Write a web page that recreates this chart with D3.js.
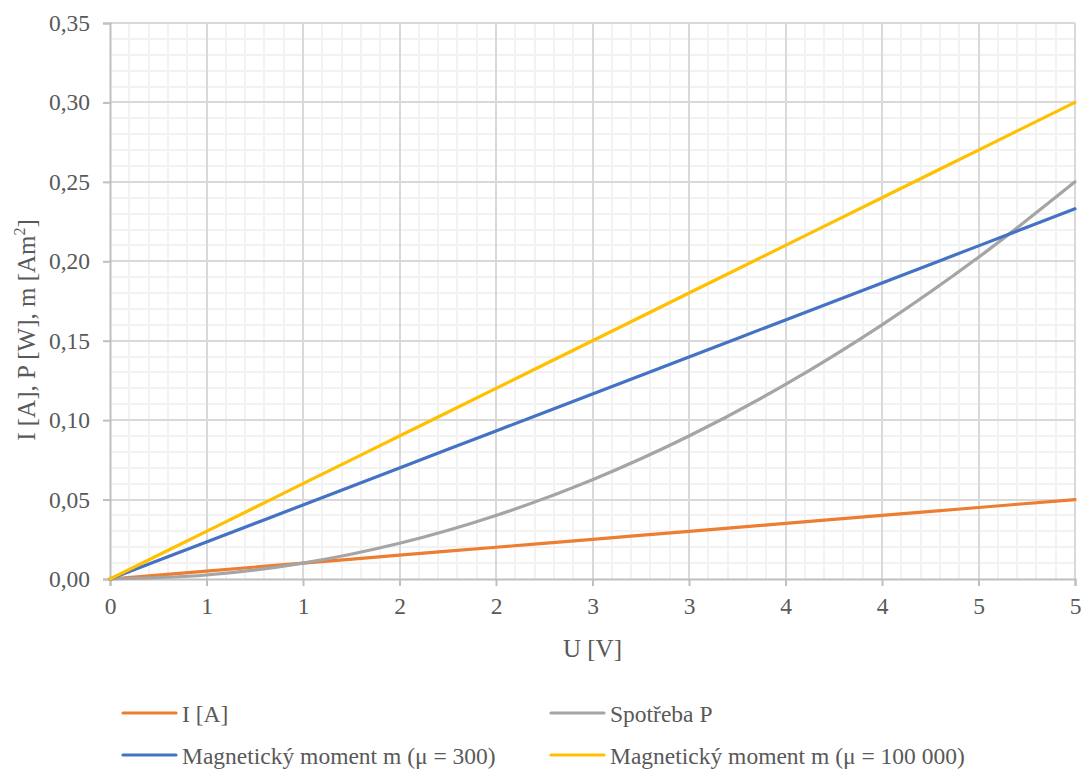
<!DOCTYPE html>
<html>
<head>
<meta charset="utf-8">
<script src="https://cdn.jsdelivr.net/npm/d3@7"></script>
<style>
  html, body { margin: 0; padding: 0; background: #ffffff; }
  svg { display: block; font-family: "Liberation Serif", "Times New Roman", serif; }
</style>
</head>
<body>
<svg id="chart" width="1091" height="769"></svg>
<script>
// Voltage samples U [V]
const voltage = [0, 0.5, 1, 1.5, 2, 2.5, 3, 3.5, 4, 4.5, 5];
// Current I [A]
const current = [0, 0.005, 0.01, 0.015, 0.02, 0.025, 0.03, 0.035, 0.04, 0.045, 0.05];
// Power consumption P [W]
const power = [0, 0.0025, 0.01, 0.0225, 0.04, 0.0625, 0.09, 0.1225, 0.16, 0.2025, 0.25];
// Magnetic moment, mu = 300
const moment300 = [0, 0.0233, 0.0466, 0.0699, 0.0932, 0.1165, 0.1398, 0.1631, 0.1864, 0.2097, 0.233];
// Magnetic moment, mu = 100 000
const moment100k = [0, 0.03, 0.06, 0.09, 0.12, 0.15, 0.18, 0.21, 0.24, 0.27, 0.30];

const xTicks = [0, 0.5, 1, 1.5, 2, 2.5, 3, 3.5, 4, 4.5, 5];
const yTicks = [0, 0.05, 0.10, 0.15, 0.20, 0.25, 0.30, 0.35];

const series = [
  { name: "I [A]", values: current, color: "#ED7D31" },
  { name: "Spotřeba P", values: power, color: "#A5A5A5" },
  { name: "Magnetický moment m (μ = 300)", values: moment300, color: "#4472C4" },
  { name: "Magnetický moment m (μ = 100 000)", values: moment100k, color: "#FFC000" }
];

const svg = d3.select("#chart");
const plotL = 110, plotR = 1075, plotT = 23, plotB = 579;

const x = d3.scaleLinear().domain([0, 5]).range([plotL, plotR]);
const y = d3.scaleLinear().domain([0, 0.35]).range([plotB, plotT]);

const textColor = "#595959";
const fontSize = 23.5;

// Minor gridlines
const minorX = d3.range(0, 51).map(i => i / 10).filter(v => Math.round(v * 10) % 5 !== 0);
const minorY = d3.range(0, 36).map(i => i / 100).filter(v => Math.round(v * 100) % 5 !== 0);
const grid = svg.append("g").attr("shape-rendering", "crispEdges");
grid.selectAll(".mx").data(minorX).join("line")
  .attr("x1", d => Math.round(x(d))).attr("x2", d => Math.round(x(d)))
  .attr("y1", plotT).attr("y2", plotB)
  .attr("stroke", "#f2f2f2").attr("stroke-width", 2);
grid.selectAll(".my").data(minorY).join("line")
  .attr("y1", d => Math.round(y(d))).attr("y2", d => Math.round(y(d)))
  .attr("x1", plotL).attr("x2", plotR)
  .attr("stroke", "#f2f2f2").attr("stroke-width", 2);

// Major gridlines
grid.selectAll(".Mx").data(xTicks.slice(1)).join("line")
  .attr("x1", d => Math.round(x(d))).attr("x2", d => Math.round(x(d)))
  .attr("y1", plotT).attr("y2", plotB)
  .attr("stroke", "#d9d9d9").attr("stroke-width", 2);
grid.selectAll(".My").data(yTicks.slice(1)).join("line")
  .attr("y1", d => Math.round(y(d))).attr("y2", d => Math.round(y(d)))
  .attr("x1", plotL).attr("x2", plotR)
  .attr("stroke", "#d9d9d9").attr("stroke-width", 2);

// Axes
const xAxis = d3.axisBottom(x).tickValues(xTicks).tickSize(7).tickPadding(11)
  .tickFormat(d => String(Math.round(d + 1e-9)));
const gx = svg.append("g").attr("transform", `translate(0,${plotB})`).call(xAxis);
gx.select(".domain").attr("stroke", "#bfbfbf").attr("stroke-width", 2);
gx.selectAll(".tick line").attr("stroke", "#bfbfbf").attr("stroke-width", 2);
gx.selectAll(".tick text").attr("fill", textColor).attr("font-size", fontSize)
  .attr("font-family", "Liberation Serif");

const yAxis = d3.axisLeft(y).tickValues(yTicks).tickSize(7).tickPadding(13)
  .tickFormat(d => d3.format(".2f")(d).replace(".", ","));
const gy = svg.append("g").attr("transform", `translate(${plotL},0)`).call(yAxis);
gy.select(".domain").attr("stroke", "#bfbfbf").attr("stroke-width", 2);
gy.selectAll(".tick line").attr("stroke", "#bfbfbf").attr("stroke-width", 2);
gy.selectAll(".tick text").attr("fill", textColor).attr("font-size", fontSize)
  .attr("font-family", "Liberation Serif");

// Series lines
const line = d3.line()
  .x((d, i) => x(voltage[i]))
  .y(d => y(d))
  .curve(d3.curveCatmullRom.alpha(0.5));
svg.append("g").selectAll("path").data(series).join("path")
  .attr("d", s => line(s.values))
  .attr("fill", "none")
  .attr("stroke", s => s.color)
  .attr("stroke-width", 3.2)
  .attr("stroke-linecap", "round");

// Axis titles
svg.append("text")
  .attr("x", (plotL + plotR) / 2).attr("y", 657)
  .attr("text-anchor", "middle").attr("fill", textColor).attr("font-size", 25)
  .text("U [V]");

const yt = svg.append("text")
  .attr("transform", "translate(35,330) rotate(-90)")
  .attr("text-anchor", "middle").attr("fill", textColor).attr("font-size", 25);
yt.append("tspan").text("I [A], P [W], m [Am");
yt.append("tspan").attr("font-size", 16).attr("dy", -10).text("2");
yt.append("tspan").attr("dy", 10).text("]");

// Legend
const legendPos = [
  { lx: 123, ly: 713 },
  { lx: 551, ly: 713 },
  { lx: 123, ly: 755 },
  { lx: 551, ly: 755 }
];
const lg = svg.append("g").selectAll("g").data(series).join("g")
  .attr("transform", (d, i) => `translate(${legendPos[i].lx},${legendPos[i].ly})`);
lg.append("line").attr("x1", 0).attr("x2", 53).attr("y1", 0).attr("y2", 0)
  .attr("stroke", d => d.color).attr("stroke-width", 3.2).attr("stroke-linecap", "round");
lg.append("text").attr("x", 59).attr("y", 9)
  .attr("fill", textColor).attr("font-size", fontSize).text(d => d.name);
</script>
</body>
</html>
